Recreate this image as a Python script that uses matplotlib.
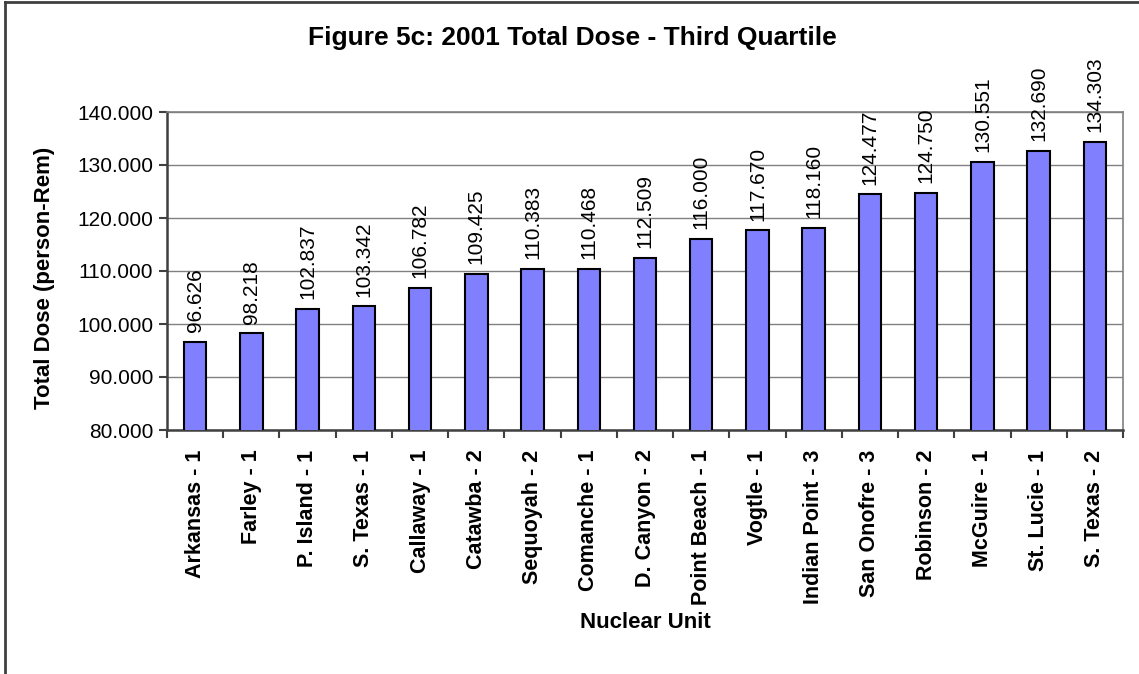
import numpy as np
import matplotlib.pyplot as plt
from matplotlib.lines import Line2D

units = ['Arkansas - 1', 'Farley - 1', 'P. Island - 1', 'S. Texas - 1', 'Callaway - 1',
         'Catawba - 2', 'Sequoyah - 2', 'Comanche - 1', 'D. Canyon - 2', 'Point Beach - 1',
         'Vogtle - 1', 'Indian Point - 3', 'San Onofre - 3', 'Robinson - 2', 'McGuire - 1',
         'St. Lucie - 1', 'S. Texas - 2']
dose = [96.626, 98.218, 102.837, 103.342, 106.782, 109.425, 110.383, 110.468, 112.509,
        116.000, 117.670, 118.160, 124.477, 124.750, 130.551, 132.690, 134.303]

plt.rcParams['font.family'] = ['Liberation Sans', 'DejaVu Sans']

fig = plt.figure(figsize=(11.39, 6.74), dpi=100)
ax = fig.add_axes([167/1139, 1 - 430/674, (1123 - 167)/1139, (430 - 112)/674])

x = np.arange(len(units))
bars = ax.bar(x, dose, width=0.4, color='#8080ff', edgecolor='black', linewidth=1.5, zorder=3)

# value labels above each bar
for xi, v in zip(x, dose):
    ax.annotate('%.3f' % v, (xi, v), xytext=(0, 7), textcoords='offset points',
                rotation=90, ha='center', va='bottom', fontsize=15, clip_on=False)

ax.set_ylim(80, 140)
ax.set_yticks(np.arange(80, 141, 10))
ax.set_yticklabels(['%.3f' % t for t in np.arange(80, 141, 10)], fontsize=15)
ax.set_xlim(-0.5, len(units) - 0.5)
ax.set_xticks(x)
ax.set_xticklabels(units, rotation=90, fontsize=15.5, fontweight='bold')
ax.tick_params(axis='x', length=0, pad=14)
ax.set_xticks(np.arange(-0.5, len(units)), minor=True)
ax.tick_params(axis='x', which='minor', length=6, width=1.5, color='#404040')
ax.tick_params(axis='y', length=6, width=1.5, color='#404040', pad=4)

ax.grid(axis='y', color='#808080', linewidth=1, zorder=0)
for s in ['top', 'right']:
    ax.spines[s].set_color('#808080')
    ax.spines[s].set_linewidth(1.2)
for s in ['left', 'bottom']:
    ax.spines[s].set_color('#404040')
    ax.spines[s].set_linewidth(1.8)

fig.text(572/1139, 1 - 38/674, 'Figure 5c: 2001 Total Dose - Third Quartile',
         ha='center', va='center', fontsize=19, fontweight='bold')
fig.text(45/1139, 1 - 278/674, 'Total Dose (person-Rem)', rotation=90,
         ha='center', va='center', fontsize=16, fontweight='bold')
fig.text(645/1139, 1 - 622/674, 'Nuclear Unit', ha='center', va='center',
         fontsize=16, fontweight='bold')

# outer chart border (left and top only visible)
fig.add_artist(Line2D([4.5/1139, 4.5/1139], [0, 1 - 1.5/674], transform=fig.transFigure,
                      color='#404040', linewidth=2))
fig.add_artist(Line2D([4.5/1139, 1], [1 - 1.5/674, 1 - 1.5/674], transform=fig.transFigure,
                      color='#404040', linewidth=2))

fig.savefig('out.png', dpi=100)
